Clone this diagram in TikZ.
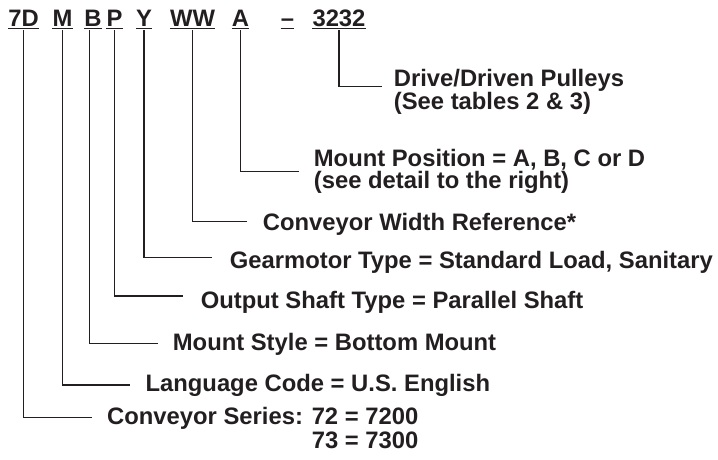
\documentclass[tikz,border=0pt]{standalone}
\usepackage{fontspec}
\setmainfont{Liberation Sans}
\usetikzlibrary{positioning}
\definecolor{ink}{HTML}{231F20}

\begin{document}
\begin{tikzpicture}[x=1pt,y=-1pt,
  code/.style={inner sep=0pt,anchor=base,text=ink,
    font=\bfseries\fontsize{23.8}{21.5}\selectfont},
  note/.style={inner sep=0pt,anchor=base west,align=left,text=ink,
    font=\bfseries\fontsize{23.8}{21.5}\selectfont},
  lead/.style={draw=ink,line width=1.1pt,shorten <=3.3pt},
  uline/.style={draw=ink,line width=1.4pt}]
  \useasboundingbox (0,0) rectangle (718,460);
  % the part number
  \node[code] (tSeries) at (23.5,26.7) {7D};
  \node[code] (tLang) at (62.5,26.7) {M};
  \node[code] (tStyle) at (93,26.7) {B};
  \node[code] (tShaft) at (114.5,26.7) {P};
  \node[code] (tMotor) at (144,26.7) {Y};
  \node[code] (tWidth) at (192.5,26.7) {WW};
  \node[code] (tPos) at (240.5,26.7) {A};
  \node[code] (tDash) at (287.5,26.7) {–};
  \node[code] (tDrive) at (339,26.7) {3232};
  \foreach \t in {tSeries,tLang,tStyle,tShaft,tMotor,tWidth,tPos,tDash,tDrive}
    \draw[uline] ([yshift=-1.8pt]\t.base west) -- ([yshift=-1.8pt]\t.base east);
  % what each part means (base = last line)
  \node[note] (nDrive) at (393.7,110) {Drive/Driven Pulleys\\(See tables 2 \& 3)};
  \node[note] (nPos) at (313.7,188) {Mount Position = A, B, C or D\\(see detail to the right)};
  \node[note] (nWidth) at (262.7,230) {Conveyor Width Reference*};
  \node[note] (nMotor) at (229.7,268) {Gearmotor Type = Standard Load, Sanitary};
  \node[note] (nShaft) at (200.7,308) {Output Shaft Type = Parallel Shaft};
  \node[note] (nStyle) at (172.7,350) {Mount Style = Bottom Mount};
  \node[note] (nLang) at (145.4,391.7) {Language Code = U.S. English};
  \node[note] (nSeries) at (107,448) {Conveyor Series: 72 = 7200\\\phantom{Conveyor Series: }73 = 7300};
  % leader lines
  \coordinate (eDrive) at (382,86.5);
  \coordinate (ePos) at (299,171.5);
  \coordinate (eWidth) at (247,221.7);
  \coordinate (eMotor) at (212,257.7);
  \coordinate (eShaft) at (183,296);
  \coordinate (eStyle) at (158,343.3);
  \coordinate (eLang) at (130,385);
  \coordinate (eSeries) at (91.7,417.7);
  \draw[lead] (tSeries.south) |- (eSeries);
  \draw[lead] (tLang.south) |- (eLang);
  \draw[lead] ([xshift=-3.7pt]tStyle.south) |- (eStyle);
  \draw[lead] (tShaft.south) |- (eShaft);
  \draw[lead] (tMotor.south) |- (eMotor);
  \draw[lead] (tWidth.south) |- (eWidth);
  \draw[lead] (tPos.south) |- (ePos);
  \draw[lead] (tDrive.south) |- (eDrive);
\end{tikzpicture}
\end{document}
